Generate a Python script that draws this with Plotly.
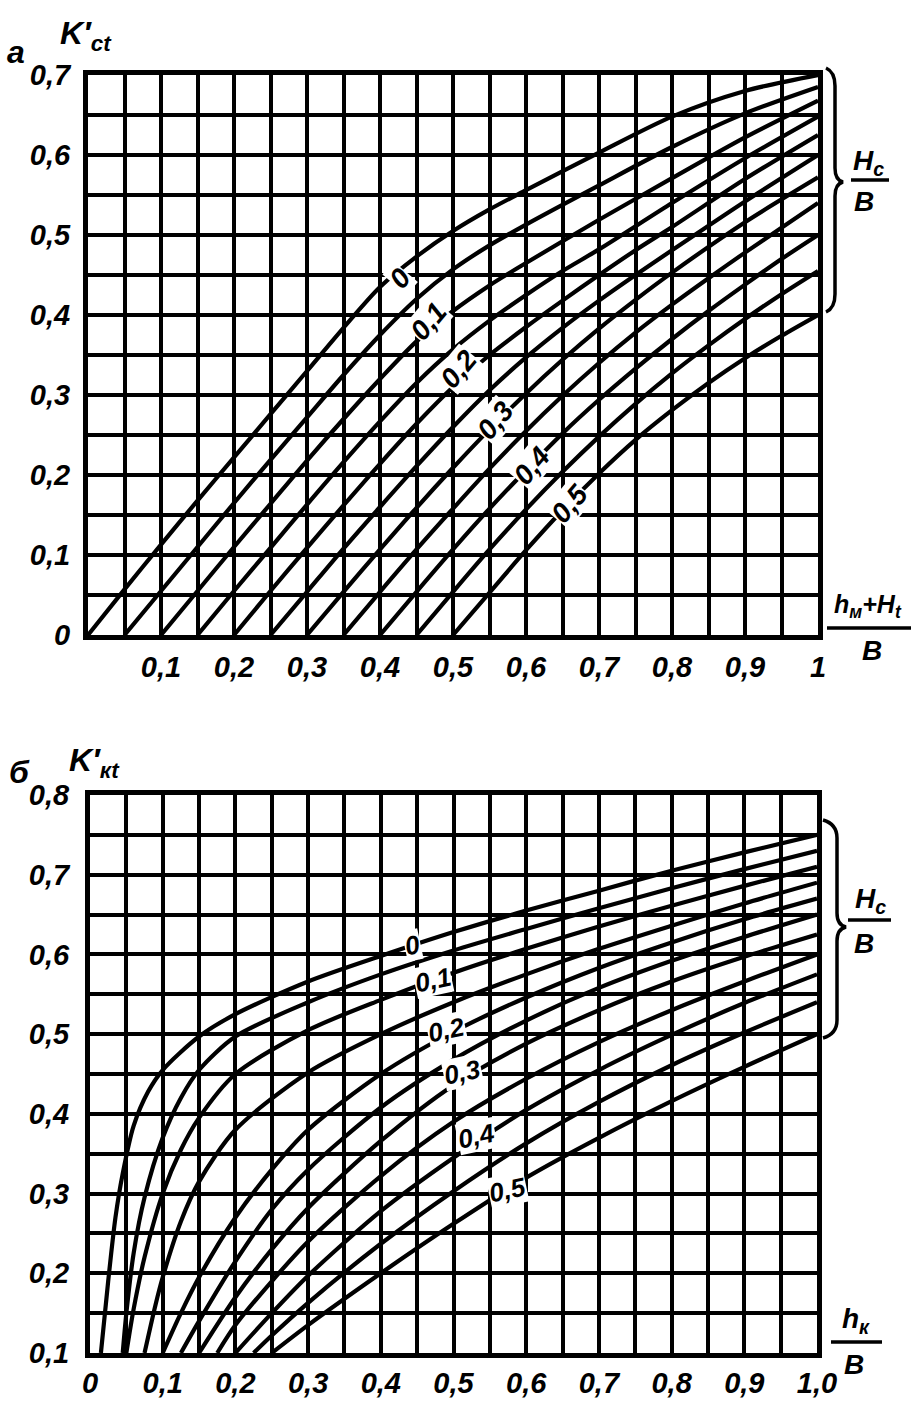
import plotly.graph_objects as go

W, H = 917, 1405
FONT = "Liberation Sans Narrow, Liberation Sans, Arial, sans-serif"

# ---------------- chart а : K'ct vs (hм+Ht)/B, parameter Hc/B ----------------
A_HC_LABELS = ["0", "0,1", "0,2", "0,3", "0,4", "0,5"]
A_HC_LABEL_X = [0.427, 0.466, 0.507, 0.558, 0.608, 0.66]
A_HC_LABEL_Y = [0.446, 0.392, 0.332, 0.268, 0.212, 0.164]

a_x_000 = [0, .05, .1, .15, .2, .25, .3, .35, .4, .45, .5, .55, .6, .7, .8, .9, 1.0]
a_y_000 = [0, .057, .113, .168, .222, .276, .33, .384, .435, .473, .505, .532, .556, .603, .648, .68, .70]
a_x_005 = [.05, .1, .15, .2, .25, .3, .35, .4, .45, .5, .55, .6, .7, .8, .9, 1.0]
a_y_005 = [0, .055, .11, .165, .219, .272, .325, .375, .42, .457, .487, .513, .562, .61, .652, .685]
a_x_010 = [.1, .15, .2, .25, .3, .35, .4, .45, .5, .55, .6, .7, .8, .9, 1.0]
a_y_010 = [0, .055, .11, .164, .218, .27, .32, .367, .405, .437, .465, .519, .571, .622, .668]
a_x_015 = [.15, .2, .25, .3, .35, .4, .45, .5, .55, .6, .65, .7, .8, .9, 1.0]
a_y_015 = [0, .055, .109, .163, .216, .267, .315, .357, .393, .425, .455, .482, .54, .596, .648]
a_x_020 = [.2, .25, .3, .35, .4, .45, .5, .55, .6, .65, .7, .75, .8, .9, 1.0]
a_y_020 = [0, .055, .109, .162, .214, .264, .31, .35, .385, .418, .45, .481, .51, .57, .625]
a_x_025 = [.25, .3, .35, .4, .45, .5, .55, .6, .65, .7, .75, .8, .9, 1.0]
a_y_025 = [0, .054, .108, .16, .211, .26, .306, .347, .384, .418, .45, .481, .542, .60]
a_x_030 = [.3, .35, .4, .45, .5, .55, .6, .65, .7, .75, .8, .9, 1.0]
a_y_030 = [0, .054, .107, .159, .209, .257, .302, .344, .383, .419, .453, .516, .572]
a_x_035 = [.35, .4, .45, .5, .55, .6, .65, .7, .75, .8, .85, .9, .95, 1.0]
a_y_035 = [0, .054, .107, .158, .208, .255, .299, .34, .378, .413, .446, .478, .509, .54]
a_x_040 = [.4, .45, .5, .55, .6, .65, .7, .75, .8, .85, .9, .95, 1.0]
a_y_040 = [0, .054, .107, .158, .206, .252, .294, .333, .37, .405, .438, .47, .50]
a_x_045 = [.45, .5, .55, .6, .65, .7, .75, .8, .85, .9, .95, 1.0]
a_y_045 = [0, .054, .107, .157, .204, .248, .289, .327, .362, .395, .426, .455]
a_x_050 = [.5, .55, .6, .65, .7, .75, .8, .85, .9, .95, 1.0]
a_y_050 = [0, .053, .106, .156, .202, .244, .281, .315, .346, .374, .40]

A_X_TICKS = [.1, .2, .3, .4, .5, .6, .7, .8, .9, 1.0]
A_X_TEXT = ["0,1", "0,2", "0,3", "0,4", "0,5", "0,6", "0,7", "0,8", "0,9", "1"]
A_X_MINOR = [.05, .15, .25, .35, .45, .55, .65, .75, .85, .95]
A_Y_TICKS = [0, .1, .2, .3, .4, .5, .6, .7]
A_Y_TEXT = ["0", "0,1", "0,2", "0,3", "0,4", "0,5", "0,6", "0,7"]
A_Y_MINOR = [.05, .15, .25, .35, .45, .55, .65]

# ---------------- chart б : K'кt vs hк/B, parameter Hc/B ----------------
B_HC_LABELS = ["0", "0,1", "0,2", "0,3", "0,4", "0,5"]
B_HC_LABEL_X = [0.444, 0.472, 0.49, 0.513, 0.532, 0.574]
B_HC_LABEL_Y = [0.612, 0.568, 0.505, 0.452, 0.372, 0.305]

b_x_000 = [.015, .025, .035, .045, .06, .08, .1, .15, .2, .3, .4, .5, .6, .7, .8, .9, 1.0]
b_y_000 = [.1, .19, .27, .325, .385, .428, .455, .497, .525, .566, .598, .628, .655, .68, .705, .728, .75]
b_x_005 = [.045, .05, .06, .075, .1, .125, .15, .2, .3, .4, .5, .6, .7, .8, .9, 1.0]
b_y_005 = [.1, .15, .225, .295, .37, .42, .455, .497, .54, .575, .605, .632, .658, .683, .707, .73]
b_x_010 = [.05, .06, .075, .1, .125, .15, .2, .3, .4, .5, .6, .7, .8, .9, 1.0]
b_y_010 = [.1, .155, .22, .3, .355, .395, .45, .505, .543, .577, .607, .635, .661, .686, .71]
b_x_015 = [.075, .09, .1, .125, .15, .2, .3, .4, .5, .6, .7, .8, .9, 1.0]
b_y_015 = [.1, .16, .195, .265, .315, .38, .452, .5, .54, .575, .607, .636, .664, .69]
b_x_020 = [.1, .125, .15, .2, .25, .3, .4, .5, .6, .7, .8, .9, 1.0]
b_y_020 = [.1, .15, .195, .27, .33, .38, .45, .503, .546, .583, .615, .644, .67]
b_x_025 = [.125, .15, .2, .25, .3, .4, .5, .6, .7, .8, .9, 1.0]
b_y_025 = [.1, .14, .215, .28, .33, .408, .468, .517, .558, .592, .622, .65]
b_x_030 = [.15, .2, .25, .3, .4, .5, .6, .7, .8, .9, 1.0]
b_y_030 = [.1, .17, .23, .282, .366, .436, .488, .53, .566, .597, .625]
b_x_035 = [.175, .2, .25, .3, .4, .5, .6, .7, .8, .9, 1.0]
b_y_035 = [.1, .135, .19, .24, .322, .39, .444, .49, .53, .566, .60]
b_x_040 = [.2, .25, .3, .4, .5, .6, .7, .8, .9, 1.0]
b_y_040 = [.1, .15, .197, .278, .345, .405, .455, .499, .539, .575]
b_x_045 = [.225, .25, .3, .4, .5, .6, .7, .8, .9, 1.0]
b_y_045 = [.1, .122, .163, .237, .303, .363, .415, .461, .502, .54]
b_x_050 = [.25, .3, .4, .5, .6, .7, .8, .9, 1.0]
b_y_050 = [.1, .135, .2, .262, .32, .37, .416, .459, .50]

B_X_TICKS = [0, .1, .2, .3, .4, .5, .6, .7, .8, .9, 1.0]
B_X_TEXT = ["0", "0,1", "0,2", "0,3", "0,4", "0,5", "0,6", "0,7", "0,8", "0,9", "1,0"]
B_X_MINOR = [.05, .15, .25, .35, .45, .55, .65, .75, .85, .95]
B_Y_TICKS = [.1, .2, .3, .4, .5, .6, .7, .8]
B_Y_TEXT = ["0,1", "0,2", "0,3", "0,4", "0,5", "0,6", "0,7", "0,8"]
B_Y_MINOR = [.15, .25, .35, .45, .55, .65, .75]

A_CURVES = [(a_x_000, a_y_000), (a_x_005, a_y_005), (a_x_010, a_y_010), (a_x_015, a_y_015),
            (a_x_020, a_y_020), (a_x_025, a_y_025), (a_x_030, a_y_030), (a_x_035, a_y_035),
            (a_x_040, a_y_040), (a_x_045, a_y_045), (a_x_050, a_y_050)]
B_CURVES = [(b_x_000, b_y_000), (b_x_005, b_y_005), (b_x_010, b_y_010), (b_x_015, b_y_015),
            (b_x_020, b_y_020), (b_x_025, b_y_025), (b_x_030, b_y_030), (b_x_035, b_y_035),
            (b_x_040, b_y_040), (b_x_045, b_y_045), (b_x_050, b_y_050)]


def px(x):
    return x / W


def py(y):
    return 1 - y / H


fig = go.Figure()
LW = 4.2
for xs, ys in A_CURVES:
    fig.add_trace(go.Scatter(x=xs, y=ys, mode="lines", xaxis="x", yaxis="y",
                             line=dict(color="black", width=LW, shape="spline", smoothing=0.8),
                             showlegend=False, hoverinfo="skip"))
for xs, ys in B_CURVES:
    fig.add_trace(go.Scatter(x=xs, y=ys, mode="lines", xaxis="x2", yaxis="y2",
                             line=dict(color="black", width=LW, shape="spline", smoothing=0.8),
                             showlegend=False, hoverinfo="skip"))

tickfont = dict(family=FONT, size=29, color="black", weight="bold", style="italic")


def axis(dom, rng, vals, text, minor_vals, standoff, anchor):
    return dict(domain=dom, range=rng, tickmode="array", tickvals=vals, ticktext=text,
                showgrid=True, gridcolor="black", gridwidth=3.5, zeroline=False,
                minor=dict(tickmode="array", tickvals=minor_vals, showgrid=True,
                           gridcolor="black", gridwidth=3.5, ticks=""),
                showline=True, linecolor="black", linewidth=5, mirror=True,
                ticks="", tickfont=tickfont, ticklabelstandoff=standoff, anchor=anchor,
                automargin=False, fixedrange=True)


fig.update_layout(
    width=W, height=H,
    margin=dict(l=0, r=0, t=0, b=0, pad=0, autoexpand=False),
    paper_bgcolor="white", plot_bgcolor="white", showlegend=False,
    xaxis=axis([px(88), px(818)], [0, 1], A_X_TICKS, A_X_TEXT, A_X_MINOR, 2, "y"),
    yaxis=axis([py(635), py(75)], [0, 0.7], A_Y_TICKS, A_Y_TEXT, A_Y_MINOR, 7, "x"),
    xaxis2=axis([px(90), px(817)], [0, 1], B_X_TICKS, B_X_TEXT, B_X_MINOR, 0, "y2"),
    yaxis2=axis([py(1353), py(795)], [0.1, 0.8], B_Y_TICKS, B_Y_TEXT, B_Y_MINOR, 10, "x2"),
)

ann = []
lab_font_a = dict(family=FONT, size=28, color="black", weight="bold", style="italic")
lab_font_b = dict(family=FONT, size=26, color="black", weight="bold", style="italic")
for t, x, y in zip(A_HC_LABELS, A_HC_LABEL_X, A_HC_LABEL_Y):
    ann.append(dict(x=x, y=y, xref="x", yref="y", text=t, showarrow=False, textangle=-50,
                    font=lab_font_a, bgcolor="white", borderpad=0))
for t, x, y in zip(B_HC_LABELS, B_HC_LABEL_X, B_HC_LABEL_Y):
    ann.append(dict(x=x, y=y, xref="x2", yref="y2", text=t, showarrow=False, textangle=-12,
                    font=lab_font_b, bgcolor="white", borderpad=0))

big = dict(family=FONT, size=30, color="black", weight="bold", style="italic")


def txt(x, y, t, size=30):
    f = dict(big)
    f["size"] = size
    ann.append(dict(x=px(x), y=py(y), xref="paper", yref="paper", text=t, showarrow=False,
                    font=f, xanchor="center", yanchor="middle"))


txt(16, 52, "а", 32)
txt(86, 35, "K′<sub>ct</sub>", 32)
txt(868, 163, "H<sub>c</sub>", 28)
txt(864, 201, "B", 28)
txt(868, 606, "h<sub>м</sub>+H<sub>t</sub>", 25)
txt(872, 650, "B", 28)

txt(19, 772, "б", 32)
txt(94, 762, "K′<sub>кt</sub>", 32)
txt(870, 900, "H<sub>c</sub>", 28)
txt(864, 943, "B", 28)
txt(856, 1320, "h<sub>к</sub>", 28)
txt(854, 1364, "B", 28)

shapes = []


def seg(x0, y0, x1, y1, w=3.5):
    shapes.append(dict(type="line", xref="paper", yref="paper", x0=px(x0), y0=py(y0),
                       x1=px(x1), y1=py(y1), line=dict(color="black", width=w)))


def brace(x0, xm, xt, y0, ym, y1):
    pts = [(x0, y0), (xm, y0 + 4), (xm, y0 + 18), (xm, ym - 14), (xm, ym - 2), (xt, ym),
           (xm, ym + 2), (xm, ym + 14), (xm, y1 - 18), (xm, y1 - 4), (x0, y1)]
    p = [(px(a), py(b)) for a, b in pts]
    path = ("M {0[0]},{0[1]} Q {1[0]},{1[1]} {2[0]},{2[1]} L {3[0]},{3[1]} Q {4[0]},{4[1]} {5[0]},{5[1]} "
            "Q {6[0]},{6[1]} {7[0]},{7[1]} L {8[0]},{8[1]} Q {9[0]},{9[1]} {10[0]},{10[1]}").format(*p)
    shapes.append(dict(type="path", xref="paper", yref="paper", path=path,
                       line=dict(color="black", width=3.5)))


brace(826, 835, 843, 68, 182, 312)
brace(823, 837, 846, 820, 927, 1038)
seg(851, 180, 889, 180)
seg(827, 628, 911, 628)
seg(848, 920, 891, 920)
seg(831, 1342, 882, 1342)

fig.update_layout(annotations=ann, shapes=shapes)
fig.write_html("out.html", config={"displayModeBar": False},
               post_script="document.body.style.margin='0';document.body.style.overflow='hidden';")
